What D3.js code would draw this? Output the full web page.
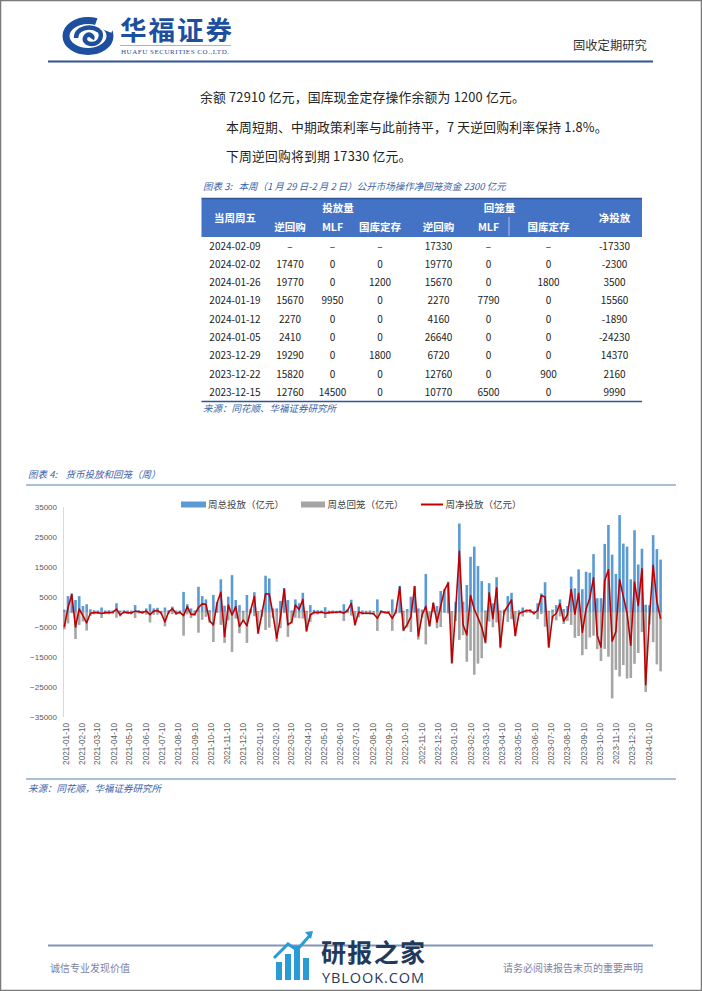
<!DOCTYPE html>
<html><head><meta charset="utf-8">
<script src="https://cdn.jsdelivr.net/npm/d3@7"></script>
<style>
html,body{margin:0;padding:0;background:#fff;}
svg{display:block;}
text{white-space:pre;}
</style></head>
<body><svg id="page" width="702" height="991"></svg>
<script>
// ---------------- DATA ----------------
const weekStart = "2021-01-08"; // first Friday of the weekly series
const injectWk = [800,5300,6200,4000,5300,2000,2600,900,600,500,
1500,500,600,500,2900,500,600,500,500,2300,
600,400,1200,2600,1200,1400,400,1500,600,1800,
500,500,6700,2600,1200,500,8400,5300,4200,600,
5700,3300,10900,2100,5100,12300,4000,2300,400,5700,
1000,6600,300,800,12100,11200,1200,1200,3700,8000,
4000,500,4200,2900,6400,400,2300,700,600,500,
1600,500,500,400,500,2600,900,4100,300,1800,
500,400,500,300,4200,600,300,400,4200,800,
8700,400,1000,5100,8700,1200,800,12700,200,3000,
2000,7000,7600,10100,300,3400,29500,3400,9000,18400,
21800,15300,10300,500,9600,2900,11600,500,800,5300,
6400,300,600,1500,800,900,400,2900,6200,9900,
400,800,2300,4200,1000,2000,11800,7900,14200,7600,
13400,13100,19300,4600,4600,22700,29000,19100,12700,32300,
22800,21800,10900,27260,15820,21090,2410,2270,25620,20970,
17470];
const withdrawWk = [5800,3800,400,9000,4300,3200,6200,1300,800,700,
2000,700,800,600,1900,1500,600,700,800,2000,
500,600,900,3500,900,900,800,4800,600,700,
1000,600,7900,800,2000,1300,6900,2600,1600,3600,
10000,300,4300,10300,2800,13300,2200,7100,3100,10300,
400,1400,7300,1600,6000,5200,2000,9900,5400,400,
8300,3900,1900,2100,2200,6600,3300,800,800,500,
2000,700,600,500,400,3000,400,1200,4500,1800,
900,800,900,900,6300,400,500,600,6300,600,
400,6400,5200,6700,300,9200,1800,10800,4800,0,
5400,5000,300,500,17200,3000,9300,7700,16600,12900,
20900,17200,15400,10500,3200,5100,3500,12100,800,3300,
2400,8100,1100,1500,300,400,900,2400,700,4900,
12000,2300,2800,1500,4000,3000,4300,8600,8000,14400,
12400,8500,7900,12400,16300,12300,14900,28800,19300,21500,
17700,22200,22000,17270,13660,6720,26640,4160,10060,17470,
19770];
const netWk = [-5000,1500,5800,-5000,1000,-1200,-3600,-400,-200,-200,
-500,-200,-200,-100,1000,-1000,0,-200,-300,300,
100,-200,300,-900,300,500,-400,-3300,0,1100,
-500,-100,-1200,1800,-800,-800,1500,2700,2600,-3000,
-4300,3000,6600,-8200,2300,-1000,1800,-4800,-2700,-4600,
600,5200,-7000,-800,6100,6000,-800,-8700,-1700,7600,
-4300,-3400,2300,800,4200,-6200,-1000,-100,-200,0,
-400,-200,-100,-100,100,-400,500,2900,-4200,0,
-400,-400,-400,-600,-2100,200,-200,-200,-2100,200,
8300,-6000,-4200,-1600,8400,-8000,-1000,1900,-4600,3000,
-3400,2000,7300,9600,-16900,400,20200,-4300,-7600,5500,
900,-1900,-5100,-10000,6400,-2200,8100,-11600,0,2000,
4000,-7800,-500,0,500,500,-500,500,5500,5000,
-11600,-1500,-500,2700,-3000,-1000,7500,-700,6200,-6800,
1000,4600,11400,-7800,-11700,10400,14100,-9700,-6600,10800,
5100,-400,-11100,9990,2160,14370,-24230,-1890,15560,3500,
-2300];
const yTicks = [35000,25000,15000,5000,-5000,-15000,-25000,-35000];
const legendNames = ["周总投放（亿元）","周总回笼（亿元）","周净投放（亿元）"];

// table (图表3)
const tblDates = ["2024-02-09","2024-02-02","2024-01-26","2024-01-19","2024-01-12","2024-01-05","2023-12-29","2023-12-22","2023-12-15"];
const tblInjRepo = ["–","17470","19770","15670","2270","2410","19290","15820","12760"];
const tblInjMLF = ["–","0","0","9950","0","0","0","0","14500"];
const tblInjTreasury = ["–","0","1200","0","0","0","1800","0","0"];
const tblWdRepo = ["17330","19770","15670","2270","4160","26640","6720","12760","10770"];
const tblWdMLF = ["–","0","0","7790","0","0","0","0","6500"];
const tblWdTreasury = ["–","0","1800","0","0","0","0","900","0"];
const tblNet = ["-17330","-2300","3500","15560","-1890","-24230","14370","2160","9990"];

// ---------------- PAGE ----------------
const svg = d3.select("#page");
const CJK = "'Noto Sans CJK SC','Noto Sans',sans-serif";
const LAT = "'Liberation Sans',Arial,sans-serif";

svg.append("rect").attr("x",0.5).attr("y",0.5).attr("width",701).attr("height",990)
  .attr("fill","#fff").attr("stroke","#7a7a7a").attr("stroke-width",1.5);

// header logo
const logo = svg.append("g");
logo.append("ellipse").attr("cx",88).attr("cy",36).attr("rx",22).attr("ry",15.5)
  .attr("fill","none").attr("stroke","#1d4f9e").attr("stroke-width",7);
logo.append("rect").attr("x",96).attr("y",18).attr("width",18).attr("height",12).attr("fill","#fff")
  .attr("transform","rotate(20,105,24)");
logo.append("path").attr("d","M76,38 C76,28 90,25 98,30 C104,34 100,44 92,44 C86,44 83,40 86,36 C89,33 94,36 92,39")
  .attr("fill","none").attr("stroke","#1d4f9e").attr("stroke-width",4.5);
svg.append("text").attr("x",120).attr("y",40).text("华福证券")
  .attr("font-family",CJK).attr("font-size",26.5).attr("font-weight",700).attr("fill","#1d4f9e")
  .attr("textLength",112);
svg.append("line").attr("x1",120).attr("x2",231).attr("y1",45.5).attr("y2",45.5).attr("stroke","#a0a0a0").attr("stroke-width",0.8);
svg.append("text").attr("x",121).attr("y",53.5).text("HUAFU SECURITIES CO.,LTD.")
  .attr("font-family","'Liberation Serif',serif").attr("font-size",7).attr("fill","#1d4f9e").attr("textLength",108);
svg.append("text").attr("x",573).attr("y",49.5).text("固收定期研究")
  .attr("font-family",CJK).attr("font-size",12.3).attr("fill","#333");
svg.append("line").attr("x1",48).attr("x2",653).attr("y1",61.5).attr("y2",61.5).attr("stroke","#2f5597").attr("stroke-width",2);

// body text
const body = [
  {x:200,y:101.5,t:"余额 72910 亿元，国库现金定存操作余额为 1200 亿元。"},
  {x:226,y:131.5,t:"本周短期、中期政策利率与此前持平，7 天逆回购利率保持 1.8%。"},
  {x:226,y:161,t:"下周逆回购将到期 17330 亿元。"}
];
svg.selectAll("text.body").data(body).enter().append("text").attr("class","body")
  .attr("x",d=>d.x).attr("y",d=>d.y).text(d=>d.t)
  .attr("font-family",CJK).attr("font-size",12.8).attr("fill","#222").attr("letter-spacing",0.2);

const capStyle = s => s.attr("font-family",CJK).attr("font-size",9.5).attr("font-style","italic").attr("fill","#3a62a8");
capStyle(svg.append("text").attr("x",203).attr("y",190).text("图表 3:   本周（1 月 29 日-2 月 2 日）公开市场操作净回笼资金 2300 亿元"));

// ---------------- TABLE ----------------
const tL = 201.5, tR = 642, tTop = 198.5, tHeadB = 237;
svg.append("rect").attr("x",tL).attr("y",tTop).attr("width",tR-tL).attr("height",tHeadB-tTop).attr("fill","#4472c4");
svg.append("line").attr("x1",tL).attr("x2",tR).attr("y1",tTop).attr("y2",tTop).attr("stroke","#2f5597").attr("stroke-width",1.5);
svg.append("line").attr("x1",509).attr("x2",509).attr("y1",217).attr("y2",236).attr("stroke","#c9d6ee").attr("stroke-width",0.8);
const colX = [235,290,332.5,380,438.5,488.5,548.5,614.5];
const hs = s => s.attr("font-family",CJK).attr("font-size",10.5).attr("font-weight",700).attr("fill","#fff").attr("text-anchor","middle");
hs(svg.append("text").attr("x",colX[0]).attr("y",222).text("当周周五"));
hs(svg.append("text").attr("x",338).attr("y",212).text("投放量"));
hs(svg.append("text").attr("x",499.5).attr("y",212).text("回笼量"));
hs(svg.append("text").attr("x",colX[7]).attr("y",222).text("净投放"));
["逆回购","MLF","国库定存","逆回购","MLF","国库定存"].forEach((t,i)=>{
  hs(svg.append("text").attr("x",colX[i+1]).attr("y",230.5).text(t));
});
const cols = [tblDates,tblInjRepo,tblInjMLF,tblInjTreasury,tblWdRepo,tblWdMLF,tblWdTreasury,tblNet];
tblDates.forEach((d,r)=>{
  cols.forEach((c,ci)=>{
    svg.append("text").attr("x",colX[ci]).attr("y",249.5+r*18.33).text(c[r])
      .attr("font-family",CJK).attr("font-size",10).attr("fill","#222").attr("text-anchor","middle");
  });
});
svg.append("line").attr("x1",tL).attr("x2",tR).attr("y1",401.5).attr("y2",401.5).attr("stroke","#2f5597").attr("stroke-width",1.5);
capStyle(svg.append("text").attr("x",203).attr("y",411.5).text("来源：同花顺、华福证券研究所"));

// ---------------- CHART (图表4) ----------------
capStyle(svg.append("text").attr("x",28).attr("y",477.5).text("图表 4:    货币投放和回笼（周）"));
svg.append("line").attr("x1",26).attr("x2",676).attr("y1",485).attr("y2",485).attr("stroke","#8ea9c8").attr("stroke-width",1.5);
svg.append("line").attr("x1",26).attr("x2",676).attr("y1",779).attr("y2",779).attr("stroke","#8ea9c8").attr("stroke-width",1.5);
capStyle(svg.append("text").attr("x",28).attr("y",791.5).text("来源：同花顺，华福证券研究所"));

const parse = d3.timeParse("%Y-%m-%d");
const d0 = parse(weekStart);
const weeks = injectWk.map((v,i)=>({date:d3.timeDay.offset(d0,7*i), inj:v, wd:withdrawWk[i], net:netWk[i]}));
const dEnd = weeks[weeks.length-1].date;

const x = d3.scaleTime().domain([d0,dEnd]).range([64.3,660.6]);
const y = d3.scaleLinear().domain([-35000,35000]).range([717,507]);

const chart = svg.append("g");
chart.append("line").attr("x1",63.5).attr("x2",63.5).attr("y1",507).attr("y2",717).attr("stroke","#d9d9d9");
chart.append("line").attr("x1",63.5).attr("x2",663).attr("y1",y(0)).attr("y2",y(0)).attr("stroke","#d9d9d9");

const yAxis = d3.axisLeft(y).tickValues(yTicks).tickSize(0).tickPadding(0).tickFormat(d3.format("d"));
const gy = chart.append("g").attr("transform","translate(57,0)").call(yAxis);
gy.select(".domain").remove();
gy.selectAll("text").attr("font-family",LAT).attr("font-size",8).attr("fill","#595959");

const xTickVals = d3.range(0,37).map(k=>d3.timeMonth.offset(parse("2021-01-10"),k));
const xAxis = d3.axisBottom(x).tickValues(xTickVals).tickSize(0).tickFormat(d3.timeFormat("%Y-%m-%d"));
const gx = chart.append("g").attr("transform","translate(0,720)").call(xAxis);
gx.select(".domain").remove();
gx.selectAll("text").attr("font-family",LAT).attr("font-size",8.2).attr("fill","#595959")
  .attr("transform","rotate(-90)").attr("text-anchor","end").attr("x",-3).attr("y",0).attr("dy","0.33em");

const bw = 2.6;
chart.selectAll("rect.inj").data(weeks).enter().append("rect").attr("class","inj")
  .attr("x",d=>x(d.date)-bw/2).attr("width",bw)
  .attr("y",d=>y(d.inj)).attr("height",d=>y(0)-y(d.inj)).attr("fill","#5b9bd5");
chart.selectAll("rect.wd").data(weeks).enter().append("rect").attr("class","wd")
  .attr("x",d=>x(d.date)-bw/2).attr("width",bw)
  .attr("y",y(0)).attr("height",d=>y(-d.wd)-y(0)).attr("fill","#a5a5a5");
chart.append("path").datum(weeks)
  .attr("d",d3.line().x(d=>x(d.date)).y(d=>y(d.net)))
  .attr("fill","none").attr("stroke","#c00000").attr("stroke-width",1.6).attr("stroke-linejoin","round");

const lg = chart.append("g").attr("font-family",CJK).attr("font-size",9.5).attr("fill","#404040");
lg.append("rect").attr("x",181).attr("y",501.5).attr("width",25).attr("height",6).attr("fill","#5b9bd5");
lg.append("text").attr("x",208).attr("y",508).text(legendNames[0]);
lg.append("rect").attr("x",301).attr("y",501.5).attr("width",24).attr("height",6).attr("fill","#a5a5a5");
lg.append("text").attr("x",327.5).attr("y",508).text(legendNames[1]);
lg.append("line").attr("x1",421).attr("x2",443).attr("y1",504.5).attr("y2",504.5).attr("stroke","#c00000").attr("stroke-width",2);
lg.append("text").attr("x",445.5).attr("y",508).text(legendNames[2]);

// ---------------- FOOTER ----------------
svg.append("line").attr("x1",48).attr("x2",653).attr("y1",945.5).attr("y2",945.5).attr("stroke","#8096b5").attr("stroke-width",2);
svg.append("text").attr("x",50).attr("y",972).text("诚信专业发现价值")
  .attr("font-family",CJK).attr("font-size",10).attr("fill","#7f7fa0");
svg.append("text").attr("x",643).attr("y",972).attr("text-anchor","end").text("请务必阅读报告末页的重要声明")
  .attr("font-family",CJK).attr("font-size",10).attr("fill","#7f7fa0");
svg.append("text").attr("x",349).attr("y",962).text("4").attr("font-family",LAT).attr("font-size",8).attr("fill","#222");
const wm = svg.append("g");
[[276,962,6,18],[285,954,6,26],[294,946,6,34],[303,958,6,22]].forEach(b=>{
  wm.append("rect").attr("x",b[0]).attr("y",b[1]).attr("width",b[2]).attr("height",b[3]).attr("fill","#2a9bd6");
});
wm.append("path").attr("d","M274,958 L288,944 L297,950 L311,934").attr("fill","none").attr("stroke","#2a9bd6").attr("stroke-width",3);
wm.append("path").attr("d","M305,932 L313,931 L311,939 Z").attr("fill","#2a9bd6");
svg.append("text").attr("x",321).attr("y",962).text("研报之家")
  .attr("font-family",CJK).attr("font-size",25).attr("font-weight",700).attr("fill","#1f3a5c").attr("textLength",104);
svg.append("text").attr("x",322).attr("y",983).text("YBLOOK.COM")
  .attr("font-family","'Open Sans',sans-serif").attr("font-size",14.5).attr("fill","#1f3a5c").attr("textLength",102);
</script></body></html>
